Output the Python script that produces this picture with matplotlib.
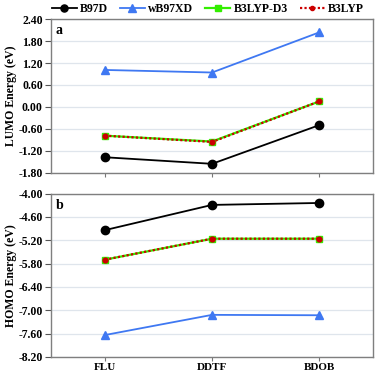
import numpy as np
import matplotlib
matplotlib.use('Agg')
import matplotlib.pyplot as plt

plt.rcParams['font.family'] = ['Liberation Serif', 'DejaVu Serif']
plt.rcParams['font.weight'] = 'bold'

molecules = ['FLU', 'DDTF', 'BDOB']
methods = ['B97D', 'wB97XD', 'B3LYP-D3', 'B3LYP']

# LUMO energies (eV)
lumo_b97d = [-1.38, -1.56, -0.50]
lumo_wb97xd = [1.01, 0.94, 2.04]
lumo_b3lyp_d3 = [-0.79, -0.95, 0.15]
lumo_b3lyp = [-0.79, -0.96, 0.15]

# HOMO energies (eV)
homo_b97d = [-4.94, -4.29, -4.24]
homo_wb97xd = [-7.64, -7.12, -7.13]
homo_b3lyp_d3 = [-5.70, -5.16, -5.16]
homo_b3lyp = [-5.70, -5.16, -5.16]

lumo_ticks = [2.40, 1.80, 1.20, 0.60, 0.00, -0.60, -1.20, -1.80]
homo_ticks = [-4.00, -4.60, -5.20, -5.80, -6.40, -7.00, -7.60, -8.20]

styles = [
    dict(color='black', marker='o', markersize=6, linewidth=1.3, linestyle='-'),
    dict(color='#3f78f2', marker='^', markersize=6, linewidth=1.3, linestyle='-'),
    dict(color='#33ee00', marker='s', markersize=5, linewidth=1.6, linestyle='-'),
    dict(color='#cc0000', marker='o', markersize=3.5, linewidth=1.6, linestyle=(0, (1, 1))),
]

fig = plt.figure(figsize=(3.76, 3.76), dpi=100)
ax1 = fig.add_axes([0.136, 0.541, 0.856, 0.408])
ax2 = fig.add_axes([0.136, 0.051, 0.856, 0.434])

x = np.arange(len(molecules))


def style_axis(ax, ticks, ylabel, letter, show_xlabels):
    ax.set_xlim(-0.5, 2.5)
    ax.set_ylim(min(ticks), max(ticks))
    ax.set_yticks(ticks)
    ax.set_yticklabels(['%.2f' % t for t in ticks], fontsize=8.5, fontweight='bold')
    ax.set_xticks(x)
    if show_xlabels:
        ax.set_xticklabels(molecules, fontsize=8, fontweight='bold')
    else:
        ax.set_xticklabels([])
    ax.grid(axis='y', color='#dfe5ec', linewidth=0.9)
    ax.set_axisbelow(True)
    for s in ax.spines.values():
        s.set_color('#7f7f7f')
        s.set_linewidth(1.0)
    ax.tick_params(axis='y', direction='out', length=4, color='#555555', pad=2)
    ax.tick_params(axis='x', direction='out', length=3, color='#777777', pad=1.5)
    ax.set_ylabel(ylabel, fontsize=8.5, fontweight='bold', labelpad=1)
    ax.text(0.015, 0.97, letter, transform=ax.transAxes, fontsize=10,
            fontweight='bold', va='top', ha='left')


lumo = [lumo_b97d, lumo_wb97xd, lumo_b3lyp_d3, lumo_b3lyp]
homo = [homo_b97d, homo_wb97xd, homo_b3lyp_d3, homo_b3lyp]

handles = []
for name, vals, st in zip(methods, lumo, styles):
    h, = ax1.plot(x, vals, label=name, **st)
    handles.append(h)
for name, vals, st in zip(methods, homo, styles):
    ax2.plot(x, vals, **st)

style_axis(ax1, lumo_ticks, 'LUMO Energy (eV)', 'a', False)
style_axis(ax2, homo_ticks, 'HOMO Energy (eV)', 'b', True)

fig.legend(handles=handles, loc='upper center', bbox_to_anchor=(0.553, 1.02),
           ncol=4, frameon=False, handlelength=2.1, markerscale=0.85,
           handletextpad=0.3, columnspacing=1.0, prop={'weight': 'bold', 'size': 8.5})

fig.savefig('out.png', dpi=100)
